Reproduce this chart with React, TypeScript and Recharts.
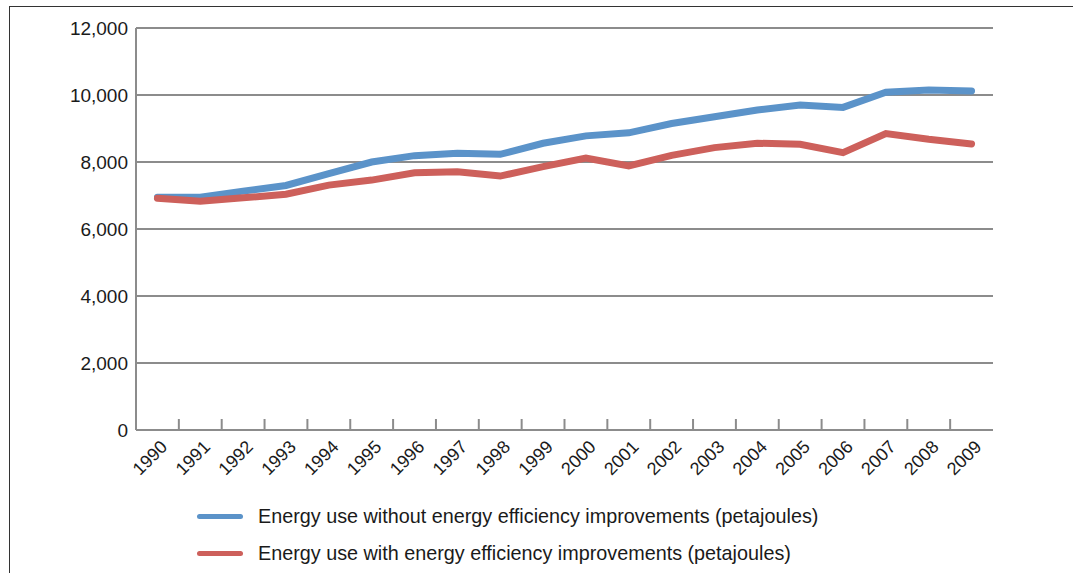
import React from 'react';
import { LineChart, Line, XAxis, YAxis, CartesianGrid } from 'recharts';

const years = [
    '1990', '1991', '1992', '1993', '1994', '1995', '1996', '1997', '1998', '1999',
    '2000', '2001', '2002', '2003', '2004', '2005', '2006', '2007', '2008', '2009',
];
const withoutImprovements = [
    6950, 6950, 7130, 7300, 7650, 8000, 8190, 8260, 8230, 8560,
    8780, 8870, 9150, 9350, 9550, 9700, 9630, 10080, 10150, 10120,
];
const withImprovements = [
    6920, 6830, 6930, 7040, 7310, 7460, 7680, 7710, 7580, 7860,
    8120, 7880, 8200, 8430, 8560, 8530, 8280, 8850, 8680, 8540,
];
const yTicks = [0, 2000, 4000, 6000, 8000, 10000, 12000];

const seriesNames = [
    'Energy use without energy efficiency improvements (petajoules)',
    'Energy use with energy efficiency improvements (petajoules)',
];
const seriesColors = ['#5b93c9', '#cd605b'];

const data = years.map((year, i) => ({
    year,
    without: withoutImprovements[i],
    with: withImprovements[i],
}));

const FONT = '"Liberation Sans", Arial, Helvetica, sans-serif';
const GRID = '#8c8c8c';
const PLOT_LEFT = 136;
const PLOT_RIGHT = 993;
const BAND = (PLOT_RIGHT - PLOT_LEFT) / years.length;

const YearTick = (props: any) => {
    const { x, y, payload, index } = props;
    const tx = x + 11;
    const ty = y + 18;
    return (
        <g>
            {index > 0 && (
                <line x1={x - BAND / 2} x2={x - BAND / 2} y1={y - 11} y2={y} stroke={GRID} strokeWidth={2} />
            )}
            <text
                x={tx}
                y={ty}
                transform={`rotate(-45, ${tx}, ${ty})`}
                textAnchor="end"
                fill="#1a1a1a"
                fontSize={18}
                fontFamily={FONT}
            >
                {payload.value}
            </text>
        </g>
    );
};

export default function App() {
    return (
        <div style={{ position: 'absolute', left: 0, top: 0, width: 1073, height: 573, background: '#fff', fontFamily: FONT }}>
            {/* page frame */}
            <div style={{ position: 'absolute', left: 9, top: 6, right: 0, bottom: 0, borderTop: '1.5px solid #333', borderLeft: '1.5px solid #333' }} />
            <div style={{ position: 'absolute', left: 0, top: 0 }}>
                <LineChart width={1073} height={573} data={data} margin={{ top: 28, right: 1073 - PLOT_RIGHT, left: 0, bottom: 0 }}>
                    <CartesianGrid vertical={false} stroke={GRID} strokeWidth={2} />
                    <XAxis
                        dataKey="year"
                        interval={0}
                        height={143}
                        padding={{ left: BAND / 2, right: BAND / 2 }}
                        tickLine={false}
                        tickSize={0}
                        tickMargin={0}
                        axisLine={{ stroke: GRID, strokeWidth: 2 }}
                        tick={<YearTick />}
                    />
                    <YAxis
                        width={PLOT_LEFT}
                        domain={[0, 12000]}
                        ticks={yTicks}
                        tickLine={false}
                        axisLine={{ stroke: GRID, strokeWidth: 2 }}
                        tick={{ fill: '#1a1a1a', fontSize: 19, fontFamily: FONT }}
                        tickFormatter={(v) => v.toLocaleString('en-US')}
                    />
                    <YAxis
                        yAxisId="right"
                        orientation="right"
                        width={0}
                        domain={[0, 12000]}
                        tick={false}
                        tickLine={false}
                        axisLine={{ stroke: GRID, strokeWidth: 2 }}
                    />
                    <Line
                        dataKey="without"
                        name={seriesNames[0]}
                        stroke={seriesColors[0]}
                        strokeWidth={7}
                        strokeLinecap="round"
                        dot={false}
                        isAnimationActive={false}
                    />
                    <Line
                        dataKey="with"
                        name={seriesNames[1]}
                        stroke={seriesColors[1]}
                        strokeWidth={7}
                        strokeLinecap="round"
                        dot={false}
                        isAnimationActive={false}
                    />
                </LineChart>
            </div>
            {/* legend */}
            {seriesNames.map((name, i) => (
                <div
                    key={name}
                    style={{ position: 'absolute', left: 197, top: 503 + i * 37, height: 26, display: 'flex', alignItems: 'center' }}
                >
                    <div style={{ width: 46, height: 5, borderRadius: 3, background: seriesColors[i] }} />
                    <span style={{ marginLeft: 15, fontSize: 19.8, color: '#1a1a1a', whiteSpace: 'nowrap' }}>{name}</span>
                </div>
            ))}
        </div>
    );
}
